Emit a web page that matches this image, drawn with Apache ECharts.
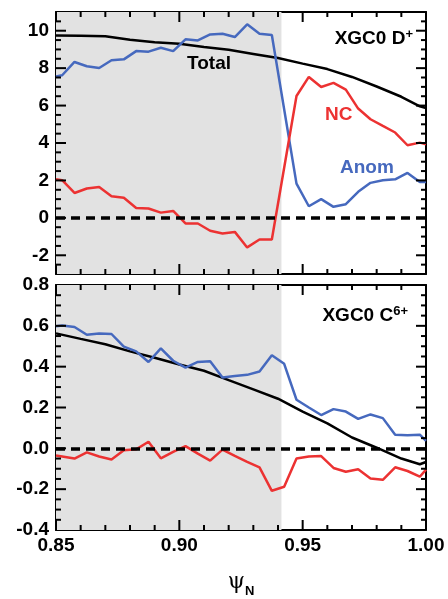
<!DOCTYPE html>
<html lang="en">
  <head>
    <meta charset="UTF-8" />
    <title>XGC0 D+ / C6+ flow components</title>
    <script src="https://cdn.jsdelivr.net/npm/echarts@6/dist/echarts.min.js"></script>
  </head>
  <body style="margin:0;background:#fff">
    <div id="main" style="width:448px;height:599px"></div>
    <script>
      // psi_N sample points (top panel has no point at 0.9425)
      var psiTop = [0.85, 0.8525, 0.8575, 0.8625, 0.8675, 0.8725, 0.8775, 0.8825, 0.8875, 0.8925, 0.8975,
        0.9025, 0.9075, 0.9125, 0.9175, 0.9225, 0.9275, 0.9325, 0.9375, 0.9475, 0.9525, 0.9575,
        0.9625, 0.9675, 0.9725, 0.9775, 0.9825, 0.9875, 0.9925, 0.9975, 1.0]
      var psiBot = [0.85, 0.8525, 0.8575, 0.8625, 0.8675, 0.8725, 0.8775, 0.8825, 0.8875, 0.8925, 0.8975,
        0.9025, 0.9075, 0.9125, 0.9175, 0.9225, 0.9275, 0.9325, 0.9375, 0.9425, 0.9475, 0.9525, 0.9575,
        0.9625, 0.9675, 0.9725, 0.9775, 0.9825, 0.9875, 0.9925, 0.9975, 1.0]
      var psiTotal = [0.85, 0.86, 0.87, 0.88, 0.89, 0.90, 0.91, 0.92, 0.93, 0.94, 0.95, 0.96, 0.97, 0.98, 0.99, 0.9975, 1.0]

      // XGC0 D+
      var anomD = [7.56, 7.62, 8.33, 8.10, 8.01, 8.42, 8.47, 8.91, 8.88, 9.09, 8.91, 9.54, 9.48, 9.80, 9.84, 9.66,
        10.34, 9.84, 9.77, 1.83, 0.62, 1.00, 0.59, 0.73, 1.39, 1.87, 2.01, 2.06, 2.40, 1.92, 1.92]
      var ncD = [2.06, 2.01, 1.33, 1.57, 1.65, 1.16, 1.07, 0.53, 0.50, 0.28, 0.37, -0.30, -0.30, -0.69, -0.84, -0.75,
        -1.58, -1.16, -1.16, 6.51, 7.53, 6.99, 7.21, 6.85, 5.84, 5.27, 4.91, 4.56, 3.88, 4.02, 3.93]
      var totalD = [9.75, 9.73, 9.70, 9.52, 9.38, 9.30, 9.13, 8.98, 8.76, 8.54, 8.24, 7.95, 7.53, 7.02, 6.47, 5.96, 5.87]

      // XGC0 C6+
      var anomC = [0.598, 0.602, 0.594, 0.556, 0.563, 0.560, 0.498, 0.475, 0.423, 0.490, 0.429, 0.395, 0.423, 0.426,
        0.347, 0.354, 0.360, 0.376, 0.456, 0.414, 0.238, 0.200, 0.163, 0.192, 0.180, 0.144, 0.166, 0.148,
        0.066, 0.064, 0.067, 0.037]
      var ncC = [-0.035, -0.040, -0.050, -0.020, -0.040, -0.055, -0.009, -0.005, 0.032, -0.049, -0.017, 0.011, -0.026,
        -0.060, -0.006, -0.037, -0.066, -0.093, -0.208, -0.188, -0.050, -0.040, -0.038, -0.096, -0.115, -0.102,
        -0.148, -0.154, -0.093, -0.111, -0.139, -0.104]
      var totalC = [0.563, 0.536, 0.510, 0.475, 0.444, 0.411, 0.380, 0.334, 0.289, 0.243, 0.180, 0.122, 0.053, 0.003,
        -0.050, -0.078, -0.067]

      // tick positions (major ones carry labels)
      var xMajor = [0.85, 0.90, 0.95, 1.00]
      var xMinor = [0.86, 0.87, 0.88, 0.89, 0.91, 0.92, 0.93, 0.94, 0.96, 0.97, 0.98, 0.99]
      var yMajorD = [-2, 0, 2, 4, 6, 8, 10]
      var yMinorD = [-2.5, -1.5, -1, -0.5, 0.5, 1, 1.5, 2.5, 3, 3.5, 4.5, 5, 5.5, 6.5, 7, 7.5, 8.5, 9, 9.5, 10.5]
      var yMajorC = [-0.2, 0, 0.2, 0.4, 0.6]
      var yMinorC = [-0.35, -0.3, -0.25, -0.15, -0.1, -0.05, 0.05, 0.1, 0.15, 0.25, 0.3, 0.35, 0.45, 0.5, 0.55,
        0.65, 0.7, 0.75]

      var shadeEnd = 0.9414 // right edge of grey region

      var font = '"Liberation Sans", Arial, sans-serif'
      var BLUE = '#4669be'
      var RED = '#ec3232'

      function pairs(xs, ys) {
        return xs.map(function (x, i) { return [x, ys[i]] })
      }
      function blk(w) { return { color: '#000', width: w } }

      function xAxisFor(gi, pos, labels) {
        var a = {
          type: 'value', gridIndex: gi, position: pos,
          min: 0.85, max: 1.0, interval: 0.05,
          axisLine: { show: true, onZero: false, lineStyle: blk(2) },
          axisTick: { show: false },
          minorTick: { show: false },
          splitLine: { show: false },
          axisLabel: { show: false }
        }
        if (labels) {
          a.axisLabel = {
            show: true, margin: 6, color: '#000', fontFamily: font, fontWeight: 'bold', fontSize: 19,
            formatter: function (v) { return v.toFixed(2) }
          }
          a.name = '{a|ψ}{b|N}'
          a.nameLocation = 'middle'
          a.nameGap = 41
          a.nameTextStyle = {
            rich: {
              a: { fontFamily: '"DejaVu Serif", serif', fontSize: 22, color: '#000', verticalAlign: 'bottom' },
              b: { fontFamily: font, fontWeight: 'bold', fontSize: 13, color: '#000', verticalAlign: 'bottom', padding: [0, 0, -5, 0] }
            }
          }
        }
        return a
      }

      function yAxisFor(gi, pos, lo, hi, step, labelOpt) {
        return {
          type: 'value', gridIndex: gi, position: pos, min: lo, max: hi, interval: step,
          axisLine: { show: true, onZero: false, lineStyle: blk(2) },
          axisTick: { show: false },
          minorTick: { show: false },
          splitLine: { show: false },
          axisLabel: labelOpt ? Object.assign({
            show: true, margin: 7, color: '#000', fontFamily: font, fontWeight: 'bold', fontSize: 19
          }, labelOpt) : { show: false }
        }
      }

      function line(xi, yi, data, color, zero) {
        var s = {
          type: 'line', xAxisIndex: xi, yAxisIndex: yi, data: data,
          symbol: 'none', lineStyle: { color: color, width: 2.5 }
        }
        if (zero) {
          s.markLine = {
            silent: true, symbol: 'none', label: { show: false },
            lineStyle: { color: '#000', type: [9, 6], width: 3.5 },
            data: [{ yAxis: 0 }]
          }
          // grey region
          s.markArea = {
            silent: true, label: { show: false },
            itemStyle: { color: '#e2e2e2' },
            data: [[{ xAxis: 0.85 }, { xAxis: shadeEnd }]]
          }
        }
        return s
      }

      // inside ticks on all four sides, placed through the axes' own scale
      function tickItems(yLo, yMaj, yMin) {
        var out = []
        xMajor.forEach(function (v) { out.push([v, yLo, 0, 10]) })
        xMinor.forEach(function (v) { out.push([v, yLo, 0, 5]) })
        yMaj.forEach(function (v) { out.push([0.85, v, 1, 10]) })
        yMin.forEach(function (v) { out.push([0.85, v, 1, 5]) })
        return out
      }
      function renderTicks(params, api) {
        var p = api.coord([api.value(0), api.value(1)])
        var kind = api.value(2)
        var len = api.value(3)
        var cs = params.coordSys
        var st = { stroke: '#000', lineWidth: 2 }
        if (kind === 0) {
          var yb = cs.y + cs.height
          return { type: 'group', children: [
            { type: 'line', shape: { x1: p[0], y1: yb, x2: p[0], y2: yb - len }, style: st },
            { type: 'line', shape: { x1: p[0], y1: cs.y, x2: p[0], y2: cs.y + len }, style: st }
          ] }
        }
        var xr = cs.x + cs.width
        return { type: 'group', children: [
          { type: 'line', shape: { x1: cs.x, y1: p[1], x2: cs.x + len, y2: p[1] }, style: st },
          { type: 'line', shape: { x1: xr, y1: p[1], x2: xr - len, y2: p[1] }, style: st }
        ] }
      }
      function tickSeries(xi, yi, items) {
        return {
          type: 'custom', xAxisIndex: xi, yAxisIndex: yi, silent: true, z: 4,
          encode: { x: 0, y: 1 }, renderItem: renderTicks, data: items
        }
      }

      var boldText = { fontFamily: font, fontWeight: 'bold', fontSize: 19, color: '#000' }
      var supText = { fontFamily: font, fontWeight: 'bold', fontSize: 13, color: '#000', verticalAlign: 'top', padding: [0, 0, 8, 0] }
      function label(text, pos, color) {
        return Object.assign({
          text: text, padding: 0,
          textStyle: Object.assign({}, boldText, { color: color || '#000', rich: { a: boldText, s: supText } })
        }, pos)
      }

      var myChart = echarts.init(document.getElementById('main'))
      myChart.setOption({
        animation: false,
        backgroundColor: '#fff',
        title: [
          label('{a|XGC0 D}{s|+}', { right: 35, top: 28 }),
          label('Total', { left: 187, top: 54 }),
          label('NC', { left: 325, top: 105 }, RED),
          label('Anom', { left: 340, top: 158 }, BLUE),
          label('{a|XGC0 C}{s|6+}', { right: 40, top: 305 })
        ],
        grid: [
          { left: 56, right: 22, top: 12, height: 262 },
          { left: 56, right: 22, top: 285, height: 262 }
        ],
        xAxis: [
          xAxisFor(0, 'bottom', false),
          xAxisFor(0, 'top', false),
          xAxisFor(1, 'bottom', true),
          xAxisFor(1, 'top', false)
        ],
        yAxis: [
          yAxisFor(0, 'left', -3, 11, 0.5, { customValues: yMajorD }),
          yAxisFor(0, 'right', -3, 11, 0.5, null),
          yAxisFor(1, 'left', -0.4, 0.8, 0.2, { formatter: function (v) { return v.toFixed(1) } }),
          yAxisFor(1, 'right', -0.4, 0.8, 0.2, null)
        ],
        series: [
          line(0, 0, pairs(psiTotal, totalD), '#000', true),
          line(0, 0, pairs(psiTop, anomD), BLUE),
          line(0, 0, pairs(psiTop, ncD), RED),
          line(2, 2, pairs(psiTotal, totalC), '#000', true),
          line(2, 2, pairs(psiBot, anomC), BLUE),
          line(2, 2, pairs(psiBot, ncC), RED),
          tickSeries(0, 0, tickItems(-3, yMajorD, yMinorD)),
          tickSeries(2, 2, tickItems(-0.4, yMajorC, yMinorC))
        ]
      })
    </script>
  </body>
</html>
